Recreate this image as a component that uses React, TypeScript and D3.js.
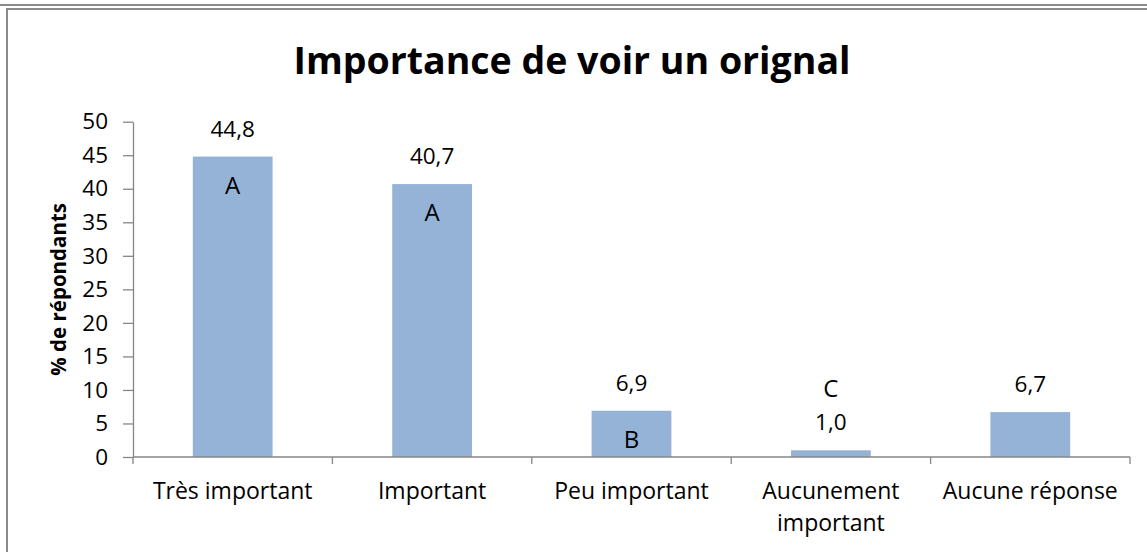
import React, { useEffect, useRef } from 'react';
import * as d3 from 'd3';

// chart data
const categories = ['Très important', 'Important', 'Peu important', 'Aucunement important', 'Aucune réponse'];
const values = [44.8, 40.7, 6.9, 1.0, 6.7];
const letters = ['A', 'A', 'B', 'C', ''];
const yTicks = [0, 5, 10, 15, 20, 25, 30, 35, 40, 45, 50];
const title = 'Importance de voir un orignal';
const yTitle = '% de répondants';

const W = 1147;
const H = 552;
const FONT = '"Open Sans", "DejaVu Sans", sans-serif';
const AXIS = '#868686';
const BAR = '#95B3D7';

const fr = d3.formatLocale({ decimal: ',', thousands: ' ', grouping: [3], currency: ['', ' €'] });
const fmt = fr.format('.1f');

export default function App() {
  const ref = useRef<SVGSVGElement>(null);

  useEffect(() => {
    const svg = d3.select(ref.current);
    svg.selectAll('*').remove();

    // frame
    svg.append('line')
      .attr('x1', 0).attr('x2', W).attr('y1', 5).attr('y2', 5)
      .attr('stroke', '#8a8a8a').attr('stroke-width', 2);
    svg.append('rect')
      .attr('x', 7).attr('y', 9).attr('width', W + 20).attr('height', H + 20)
      .attr('fill', 'white').attr('stroke', '#8a8a8a').attr('stroke-width', 2);

    const left = 133, right = 1130, bottom = 457, top = 121.7;

    const x = d3.scaleBand<string>()
      .domain(categories)
      .range([left, right])
      .paddingInner(0.6)
      .paddingOuter(0.3);
    const y = d3.scaleLinear().domain([0, 50]).range([bottom, top]);

    // title
    svg.append('text')
      .attr('x', 572).attr('y', 74)
      .attr('text-anchor', 'middle')
      .attr('font-family', FONT).attr('font-weight', 700).attr('font-size', 37.5)
      .attr('fill', '#000')
      .text(title);

    // y axis
    const yAxis = d3.axisLeft(y).tickValues(yTicks).tickSize(10).tickPadding(15).tickSizeOuter(0);
    const gy = svg.append('g').attr('transform', `translate(${left},0)`).call(yAxis);
    gy.select('.domain').attr('stroke', AXIS).attr('stroke-width', 1.3);
    gy.selectAll('.tick line').attr('stroke', AXIS).attr('stroke-width', 1.3);
    gy.selectAll('.tick text')
      .attr('font-family', FONT).attr('font-size', 22.5).attr('fill', '#000');

    svg.append('text')
      .attr('transform', `translate(58,${(top + bottom) / 2}) rotate(-90)`)
      .attr('text-anchor', 'middle')
      .attr('dominant-baseline', 'central')
      .attr('font-family', FONT).attr('font-weight', 700).attr('font-size', 20.5)
      .attr('fill', '#000')
      .text(yTitle);

    // bars
    svg.append('g').selectAll('rect')
      .data(values)
      .join('rect')
      .attr('x', (d, i) => x(categories[i])!)
      .attr('y', d => y(d))
      .attr('width', x.bandwidth())
      .attr('height', d => bottom - y(d))
      .attr('fill', BAR);

    // x axis line + boundary ticks
    const step = x.step();
    const bounds = d3.range(categories.length + 1).map(i => left + i * step);
    svg.append('line')
      .attr('x1', left).attr('x2', right).attr('y1', bottom).attr('y2', bottom)
      .attr('stroke', AXIS).attr('stroke-width', 1.3);
    svg.append('g').selectAll('line')
      .data(bounds)
      .join('line')
      .attr('x1', d => d).attr('x2', d => d)
      .attr('y1', bottom).attr('y2', bottom + 7)
      .attr('stroke', AXIS).attr('stroke-width', 1.3);

    // category labels (wrapped)
    const cx = (i: number) => x(categories[i])! + x.bandwidth() / 2;
    const labels = svg.append('g').selectAll('text')
      .data(categories)
      .join('text')
      .attr('x', (d, i) => cx(i))
      .attr('y', 499)
      .attr('text-anchor', 'middle')
      .attr('font-family', FONT).attr('font-size', 23).attr('fill', '#000')
      .text(d => d);
    labels.each(function (d, i) {
      const t = d3.select(this);
      const node = this as SVGTextElement;
      if (node.getComputedTextLength() > 195) {
        const words = d.split(' ');
        t.text(null);
        words.forEach((w, k) => {
          t.append('tspan').attr('x', cx(i)).attr('dy', k === 0 ? 0 : 31.5).text(w);
        });
      }
    });

    // value labels
    svg.append('g').selectAll('text')
      .data(values)
      .join('text')
      .attr('x', (d, i) => cx(i))
      .attr('y', d => y(d) - 20)
      .attr('text-anchor', 'middle')
      .attr('font-family', FONT).attr('font-size', 22.5).attr('fill', '#000')
      .text(d => fmt(d));

    // significance letters
    svg.append('g').selectAll('text')
      .data(letters)
      .join('text')
      .attr('x', (d, i) => cx(i))
      .attr('y', (d, i) => (values[i] > 5 ? y(values[i]) + 37 : y(values[i]) - 53))
      .attr('text-anchor', 'middle')
      .attr('font-family', FONT).attr('font-size', 24).attr('fill', '#000')
      .text(d => d);
  }, []);

  return (
    <svg
      ref={ref}
      width={W}
      height={H}
      style={{ position: 'absolute', left: 0, top: 0, display: 'block', background: '#fff' }}
    />
  );
}
